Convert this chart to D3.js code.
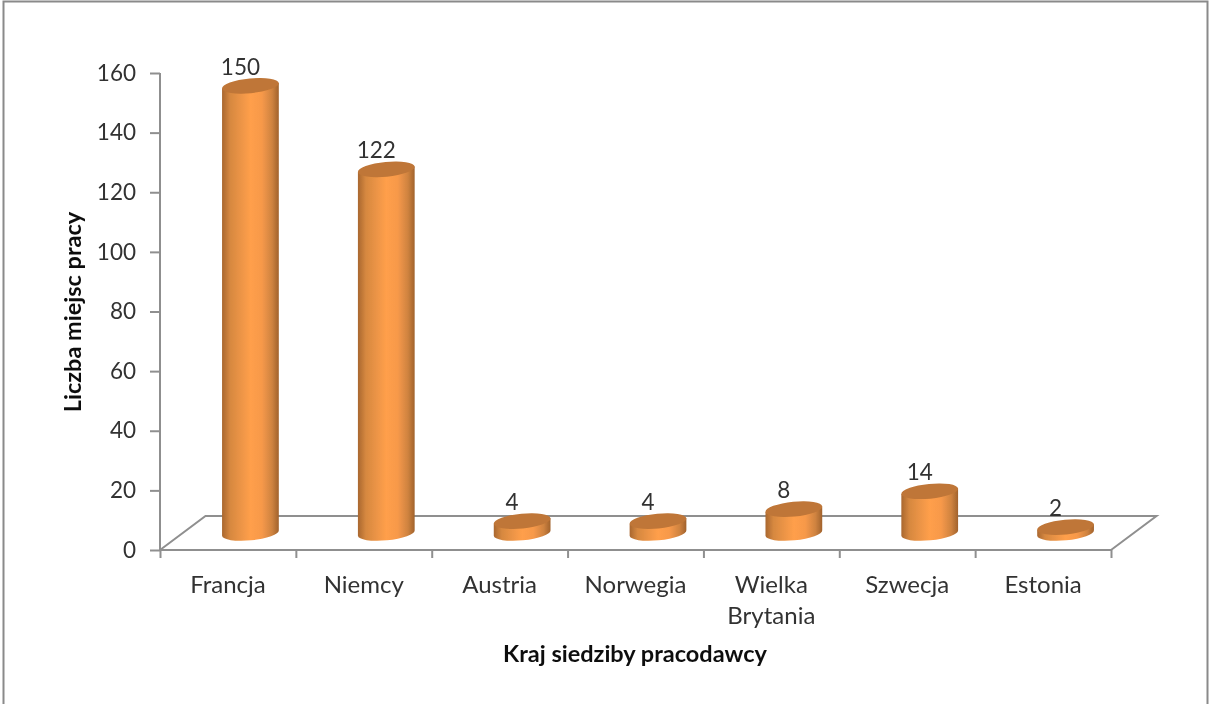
<!DOCTYPE html>
<html><head><meta charset="utf-8">
<script src="https://cdn.jsdelivr.net/npm/d3@7"></script>
<style>html,body{margin:0;padding:0;background:#fff}svg{display:block}text{font-family:Lato,"Open Sans",sans-serif;fill:#333}</style>
</head><body><svg id="c" width="1210" height="704"></svg>
<script>
const categories = ["Francja","Niemcy","Austria","Norwegia","Wielka Brytania","Szwecja","Estonia"];
const values = [150,122,4,4,8,14,2];
const yTicks = [0,20,40,60,80,100,120,140,160];
const xTitle = "Kraj siedziby pracodawcy";
const yTitle = "Liczba miejsc pracy";

const svg = d3.select("#c");
const W = 1210, H = 704;
const L = 160, R = 1111, T = 73, B = 550;
const depthX = 45.5, depthY = 34;
const barDx = 22.5, barDy = 17, rx = 28.5, ry = 7.4, tilt = 5.5;
const axisCol = "#8f8f8f";
const fs = 22.5, catFs = 24;

const defs = svg.append("defs");
defs.append("filter").attr("id","soft").attr("x",0).attr("y",0).attr("width",1).attr("height",1)
  .append("feGaussianBlur").attr("stdDeviation",0.45);
const g = defs.append("linearGradient").attr("id","cyl").attr("x1",0).attr("x2",1).attr("y1",0).attr("y2",0);
[[0,"#a9672f"],[0.14,"#d68840"],[0.5,"#ff9f4b"],[0.7,"#f7994a"],[0.88,"#cf8340"],[1,"#a1622c"]]
  .forEach(([o,c])=>g.append("stop").attr("offset",o).attr("stop-color",c));

const root = svg.append("g").attr("filter","url(#soft)");
root.append("rect").attr("width",W).attr("height",H).attr("fill","#fff");
root.append("path").attr("d", `M3.5,${H} V1.5 H${W-2.5} V${H}`).attr("fill","none").attr("stroke","#8a8a8a").attr("stroke-width",2);

const y = d3.scaleLinear().domain([0,160]).range([B,T]);
const x = d3.scaleBand().domain(categories).range([L,R]);
const edge = d3.scaleLinear().domain([0,categories.length]).range([L,R]);

// floor
root.append("path")
  .attr("d",`M${L},${B} L${L+depthX},${B-depthY} H${R+depthX} L${R},${B}`)
  .attr("fill","none").attr("stroke",axisCol).attr("stroke-width",2);

// axes
const yAxis = root.append("g").attr("transform",`translate(${L},0)`)
  .call(d3.axisLeft(y).tickValues(yTicks).tickSize(10).tickPadding(14).tickFormat(d3.format("d")));
const xAxis = root.append("g").attr("transform",`translate(0,${B})`)
  .call(d3.axisBottom(edge).tickValues(d3.range(categories.length+1)).tickSize(8).tickFormat(""));
[yAxis,xAxis].forEach(a=>{
  a.selectAll("path,line").attr("stroke",axisCol).attr("stroke-width",2);
  a.select(".domain").attr("d", a===yAxis ? `M0,${T}V${B}` : `M${L},0H${R}`);
});
yAxis.selectAll("text").attr("font-size",fs).style("font-family","Lato").attr("fill","#333");

// cylinders
const rad = tilt*Math.PI/180, ex = rx*Math.cos(rad), ey = rx*Math.sin(rad);
const bars = root.append("g").selectAll("g").data(categories.map((c,i)=>({c,v:values[i]}))).join("g");
const cx = d => x(d.c)+x.bandwidth()/2+barDx;
const yb = () => y(0)-barDy;
const yt = d => y(d.v)-barDy;
bars.append("path").attr("fill","url(#cyl)")
  .attr("d",d=>{
    const c=cx(d);
    return `M${c-ex},${yt(d)+ey} L${c-ex},${yb()+ey} A${rx},${ry} ${-tilt} 0 0 ${c+ex},${yb()-ey} L${c+ex},${yt(d)-ey} Z`;
  });
bars.append("ellipse").attr("fill","#bf7637")
  .attr("rx",rx).attr("ry",ry)
  .attr("transform",d=>`translate(${cx(d)},${yt(d)}) rotate(${-tilt})`);
bars.append("text").attr("text-anchor","middle").attr("font-size",fs)
  .attr("x",d=>cx(d)-10).attr("y",d=>yt(d)-11).text(d=>d.v);

// category labels
const labels = root.append("g").selectAll("text").data(categories).join("text")
  .attr("text-anchor","middle").attr("font-size",catFs)
  .attr("x",d=>x(d)+x.bandwidth()/2).attr("y",593);
labels.each(function(d){
  const t=d3.select(this);
  d.split(" ").forEach((w,i)=>t.append("tspan").attr("x",x(d)+x.bandwidth()/2).attr("dy",i?31:0).text(w));
});

// titles
root.append("text").attr("text-anchor","middle").attr("font-size",23.5).attr("font-weight",700)
  .attr("x",635).attr("y",662).style("fill","#111").text(xTitle);
root.append("text").attr("text-anchor","middle").attr("font-size",23.5).attr("font-weight",700)
  .attr("transform","translate(81,312) rotate(-90)").style("fill","#111").text(yTitle);
</script></body></html>
